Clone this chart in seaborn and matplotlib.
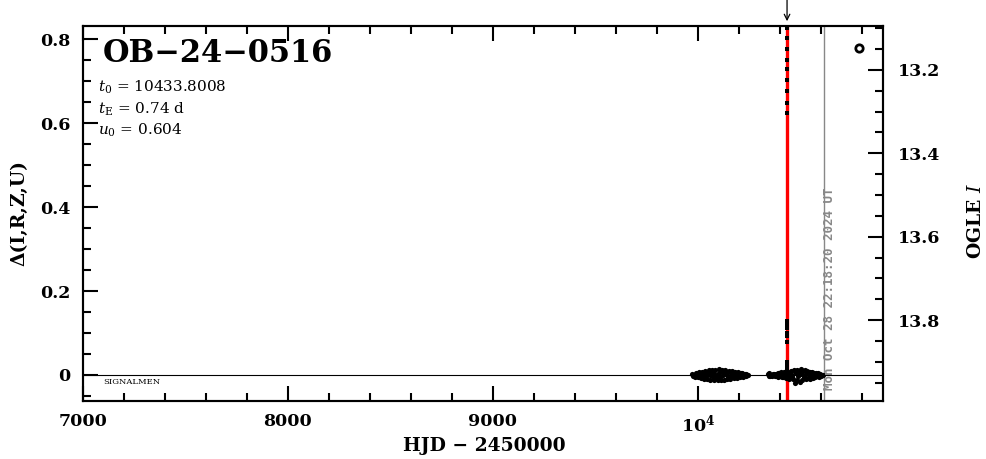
import numpy as np
import matplotlib
matplotlib.use("Agg")
import matplotlib.pyplot as plt
from matplotlib.ticker import MultipleLocator, FixedLocator
import seaborn as sns

# event parameters
event_name = "OB\u221224\u22120516"
t0 = 10433.8008
tE = 0.74
u0 = 0.604
date_hjd = 10612.0
date_label = "Mon Oct 28 22:18:20 2024 UT"

# 2023 season, baseline scatter
s1_hjd = [9972, 9976, 9980, 9984, 9988, 9992, 9996, 10000, 10004, 10008,
          10012, 10016, 10020, 10024, 10028, 10032, 10036, 10040, 10044, 10048,
          10052, 10056, 10060, 10064, 10068, 10072, 10076, 10080, 10084, 10088,
          10092, 10096, 10100, 10104, 10108, 10112, 10116, 10120, 10124, 10128,
          10132, 10136, 10140, 10144, 10148, 10152, 10156, 10160, 10164, 10168,
          10172, 10176, 10180, 10184, 10188, 10192, 10196, 10200, 10204, 10208,
          10212, 10216, 10220, 10224, 10228, 10232, 10236, 10240, 10244]
s1_delta = [0.003, -0.002, 0.001, -0.004, 0.005, -0.001, 0.002, -0.006, 0.007, 0.000,
            -0.007, 0.004, 0.008, -0.003, -0.009, 0.005, 0.010, -0.002, -0.010, 0.006,
            0.011, 0.000, -0.011, 0.004, 0.012, -0.005, -0.012, 0.002, 0.012, -0.007,
            0.001, -0.013, 0.013, 0.005, -0.004, -0.012, 0.012, -0.001, 0.006, -0.011,
            0.011, 0.002, -0.010, 0.007, -0.004, 0.010, -0.009, 0.000, 0.009, -0.006,
            0.003, -0.008, 0.008, -0.002, 0.005, -0.007, 0.006, 0.001, -0.005, 0.004,
            -0.002, 0.005, -0.004, 0.001, 0.003, -0.003, 0.002, -0.001, 0.001]

# 2024 season, baseline scatter
s2_hjd = [10340, 10344, 10348, 10352, 10356, 10360, 10364, 10368, 10372, 10376,
          10380, 10384, 10388, 10392, 10396, 10400, 10404, 10408, 10412, 10416,
          10420, 10424, 10428, 10432, 10436, 10440, 10444, 10448, 10452, 10456,
          10460, 10464, 10468, 10472, 10476, 10480, 10484, 10488, 10492, 10496,
          10500, 10504, 10508, 10512, 10516, 10520, 10524, 10528, 10532, 10536,
          10540, 10544, 10548, 10552, 10556, 10560, 10564, 10568, 10572, 10576,
          10580, 10584, 10588, 10592, 10596, 10600, 10604, 10608]
s2_delta = [0.003, -0.003, 0.004, -0.002, 0.001, -0.003, 0.002, -0.001, 0.002, -0.002,
            0.003, -0.003, 0.004, -0.004, 0.005, -0.002, 0.006, -0.005, 0.002, -0.006,
            0.007, 0.000, -0.007, 0.004, 0.008, -0.003, -0.009, 0.006, 0.010, -0.005,
            0.001, -0.010, 0.011, -0.018, 0.004, -0.011, 0.012, -0.002, 0.007, -0.016,
            0.013, 0.002, -0.011, 0.009, -0.004, 0.011, -0.010, 0.003, 0.010, -0.008,
            0.006, -0.009, 0.008, -0.002, 0.007, -0.007, 0.005, 0.000, -0.006, 0.005,
            -0.003, 0.004, -0.004, 0.002, 0.003, -0.002, 0.001, -0.001]

# peak night
pk_hjd = [10433.62, 10433.64, 10433.66, 10433.68, 10433.70, 10433.72, 10433.74,
          10433.76, 10433.78, 10433.80, 10433.82, 10433.86, 10433.90,
          10433.94, 10433.98, 10434.02, 10434.06, 10434.10]
pk_delta = [0.015, 0.022, 0.030, 0.078, 0.092, 0.101, 0.111, 0.120, 0.128,
            0.625, 0.648, 0.676, 0.702, 0.728, 0.750, 0.777, 0.803, 0.826]

# lone open symbol
extra_hjd = [10783]
extra_delta = [0.779]

xmin, xmax = 7000, 10900
ymin, ymax = -0.062, 0.832
mag_bottom, mag_top = 13.994, 13.094

sns.set_style("ticks")
plt.rcParams['font.family'] = ['DejaVu Serif', 'DejaVu Sans']
plt.rcParams['mathtext.fontset'] = 'dejavuserif'
plt.rcParams['text.color'] = 'black'
plt.rcParams['axes.labelcolor'] = 'black'
plt.rcParams['xtick.color'] = 'black'
plt.rcParams['ytick.color'] = 'black'

fig = plt.figure(figsize=(9.86, 4.59), dpi=100)
ax = fig.add_axes([0.0839, 0.1264, 0.8113, 0.8176])

ax.axvline(t0, color='red', lw=2.4, zorder=1)
ax.axvline(date_hjd, color='#888888', lw=1.0, zorder=1)
ax.axhline(0, color='black', lw=0.8, zorder=1)

sns.scatterplot(x=s1_hjd, y=s1_delta, ax=ax, color='black', s=14, marker='o',
                linewidth=0, zorder=3)
sns.scatterplot(x=s2_hjd, y=s2_delta, ax=ax, color='black', s=14, marker='o',
                linewidth=0, zorder=3)
sns.scatterplot(x=pk_hjd, y=pk_delta, ax=ax, color='black', s=6, marker='s',
                linewidth=0, zorder=3)
sns.scatterplot(x=extra_hjd, y=extra_delta, ax=ax, facecolor='white',
                edgecolor='black', s=28, marker='o', linewidth=2, zorder=3)

ax.set_xlim(xmin, xmax)
ax.set_ylim(ymin, ymax)

tick_font = dict(family='DejaVu Serif', weight='bold', size=12.5, color='black')
ax.xaxis.set_major_locator(FixedLocator([7000, 8000, 9000, 10000]))
ax.set_xticklabels(['7000', '8000', '9000', r'$\mathbf{10^4}$'], **tick_font)
ax.xaxis.set_minor_locator(MultipleLocator(200))
ax.yaxis.set_major_locator(FixedLocator([0, 0.2, 0.4, 0.6, 0.8]))
ax.set_yticklabels(['0', '0.2', '0.4', '0.6', '0.8'], **tick_font)
ax.yaxis.set_minor_locator(MultipleLocator(0.05))
ax.tick_params(which='both', direction='in', top=True, bottom=True,
               left=True, right=False, width=1.5, color='black')
ax.tick_params(which='major', length=11)
ax.tick_params(which='minor', length=6)
ax.tick_params(axis='x', which='major', pad=9)
ax.tick_params(axis='y', which='major', pad=9)

ax2 = ax.twinx()
ax2.set_ylim(mag_bottom, mag_top)
ax2.yaxis.set_major_locator(FixedLocator([13.2, 13.4, 13.6, 13.8]))
ax2.set_yticklabels(['13.2', '13.4', '13.6', '13.8'], **tick_font)
ax2.yaxis.set_minor_locator(MultipleLocator(0.05))
ax2.tick_params(which='both', direction='in', width=1.5, color='black')
ax2.tick_params(which='major', length=11, pad=11)
ax2.tick_params(which='minor', length=6)

for a in (ax, ax2):
    for sp in a.spines.values():
        sp.set_linewidth(1.5)
        sp.set_color('black')
        sp.set_visible(True)

lab_font = dict(family='DejaVu Serif', weight='bold', size=13.5, color='black')
ax.set_xlabel("HJD \u2212 2450000", **lab_font)
ax.xaxis.set_label_coords(0.502, -0.097)
ax.set_ylabel("\u0394(I,R,Z,U)", **lab_font)
ax.yaxis.set_label_coords(-0.068, 0.5)
ax2.set_ylabel(r"OGLE $\mathit{I}$", **lab_font)
ax2.yaxis.set_label_coords(1.105, 0.48)

ax.text(0.025, 0.927, event_name, transform=ax.transAxes, ha='left', va='center',
        family='DejaVu Serif', weight='bold', size=22)
ax.text(0.019, 0.837, r"$t_0$ = %.4f" % t0, transform=ax.transAxes,
        ha='left', va='center', size=11)
ax.text(0.019, 0.777, r"$t_\mathrm{E}$ = %.2f d" % tE, transform=ax.transAxes,
        ha='left', va='center', size=11)
ax.text(0.019, 0.722, r"$u_0$ = %.3f" % u0, transform=ax.transAxes,
        ha='left', va='center', size=11)
ax.text(0.026, -0.016, "SIGNALMEN", ha='left', va='center', size=6,
        transform=ax.get_yaxis_transform())

ax.text(date_hjd + 30, -0.036, date_label, rotation=90, ha='center', va='bottom',
        color='#888888', family='DejaVu Sans Mono', weight='bold', size=9)

ax.annotate('', xy=(t0, 1.012), xytext=(t0, 1.075),
            xycoords=('data', 'axes fraction'),
            arrowprops=dict(arrowstyle='->', color='black', lw=0.9,
                            shrinkA=0, shrinkB=0))

fig.savefig('out.png', dpi=100)
